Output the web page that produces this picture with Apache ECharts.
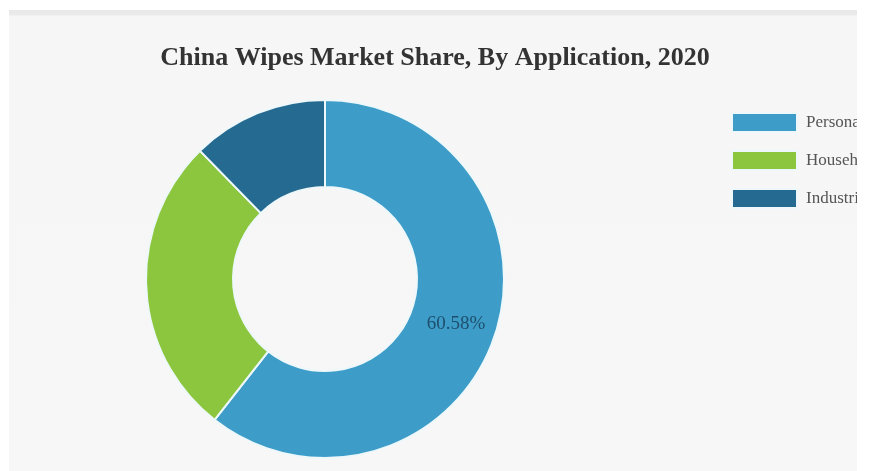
<!DOCTYPE html>
<html>
<head>
<meta charset="utf-8">
<script src="https://cdn.jsdelivr.net/npm/echarts@6/dist/echarts.min.js"></script>
<style>
  html, body { margin: 0; padding: 0; background: #ffffff; width: 870px; height: 471px; overflow: hidden; }
  #panel { position: absolute; left: 9px; top: 10px; width: 848px; height: 461px;
           background: linear-gradient(#e8e8e8 0px, #ebebeb 5px, #f6f6f6 6px, #f7f7f7 100%); overflow: hidden; }
  #chart { position: absolute; left: 0; top: 0; width: 848px; height: 461px; }
</style>
</head>
<body>
<div id="panel"><div id="chart"></div></div>
<script>
const titleText = 'China Wipes Market Share, By Application, 2020';
const categories = ['Personal', 'Household', 'Industrial'];
const shares = [60.58, 27.12, 12.30];
const colors = ['#3d9dc8', '#8cc63f', '#256a91'];
const labelShown = [true, false, false];

const chart = echarts.init(document.getElementById('chart'), null, { renderer: 'canvas' });
chart.setOption({
  backgroundColor: 'transparent',
  animation: false,
  title: {
    text: titleText,
    left: 435 - 9,
    textAlign: 'center',
    top: 35,
    padding: 0,
    textStyle: { fontFamily: 'Liberation Serif', fontWeight: 'bold', fontSize: 26, color: '#333333' }
  },
  legend: {
    orient: 'vertical',
    left: 731 - 9,
    top: 102,
    padding: 0,
    itemWidth: 65,
    itemHeight: 19,
    itemGap: 17,
    icon: 'rect',
    data: categories,
    textStyle: { fontFamily: 'Liberation Serif', fontSize: 17, color: '#555555', padding: [0, 0, 0, 4] }
  },
  series: [{
    type: 'pie',
    center: [316, 269],
    radius: [92, 179],
    startAngle: 90,
    clockwise: true,
    avoidLabelOverlap: false,
    itemStyle: { borderColor: '#eef8fb', borderWidth: 2 },
    label: {
      position: 'inside',
      fontFamily: 'Liberation Serif',
      fontSize: 19,
      color: '#1e4f6e',
      formatter: p => p.value.toFixed(2) + '%'
    },
    labelLine: { show: false },
    data: categories.map((c, i) => ({
      name: c,
      value: shares[i],
      itemStyle: { color: colors[i] },
      label: { show: labelShown[i] }
    }))
  }]
});
</script>
</body>
</html>
